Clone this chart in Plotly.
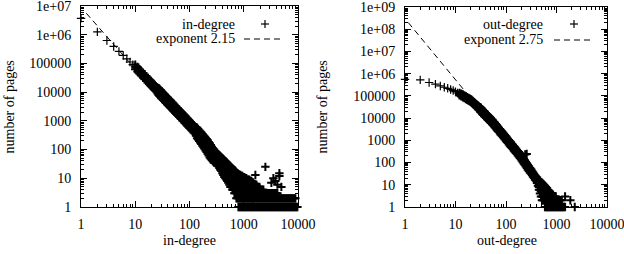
import plotly.graph_objects as go

# ---------------- data: in-degree ----------------
in_sparse_x = [1, 2, 3, 4, 5, 6, 7, 8, 9]
in_sparse_y = [3.7e6, 1.26e6, 6.3e5, 3.9e5, 2.63e5, 1.9e5, 1.45e5, 1.12e5, 9.1e4]

# (degree, [counts ...]) columns of the dense part
in_band_cols = [
    (10, [63000, 75900, 91000]), (11, [52000, 62700, 75000]), (12, [44000, 52700, 63000]),
    (13, [37000, 44900, 54000]), (14, [32000, 38700, 46000]), (15, [28000, 33700, 40000]),
    (16, [24500, 29600, 35500]), (17, [21800, 26300, 31500]), (18, [19400, 23400, 28000]),
    (19, [17400, 21000, 25200]), (20, [15800, 19000, 22800]), (21, [14300, 17200, 20600]),
    (22, [13000, 15700, 18800]), (23, [11900, 14300, 17200]), (24, [11000, 13200, 15800]),
    (25, [10000, 12100, 14500]), (26, [9000, 11200, 14100]), (27, [7900, 10400, 13700]),
    (28, [7300, 9700, 12800]), (29, [6850, 9020, 11900]), (30, [6400, 8400, 11100]),
    (31, [6000, 7890, 10400]), (33, [5300, 7000, 9200]), (34, [4990, 6560, 8660]),
    (36, [4450, 5850, 7700]), (37, [4210, 5540, 7310]), (39, [3800, 5000, 6600]),
    (40, [3600, 4740, 6260]), (42, [3250, 4300, 5680]), (44, [2980, 3920, 5170]),
    (46, [2720, 3580, 4730]), (48, [2500, 3290, 4340]), (50, [2300, 3030, 4000]),
    (52, [2130, 2800, 3700]), (55, [1900, 2500, 3300]), (57, [1770, 2330, 3080]),
    (60, [1600, 2100, 2780]), (62, [1500, 1970, 2600]), (65, [1370, 1800, 2370]),
    (68, [1250, 1640, 2160]), (71, [1150, 1510, 1990]), (74, [1060, 1390, 1830]),
    (77, [980, 1290, 1700]), (81, [880, 1160, 1530]), (84, [820, 1080, 1420]),
    (88, [745, 980, 1290]), (92, [680, 895, 1180]), (96, [625, 823, 1090]),
    (100, [575, 757, 1000]), (105, [520, 688, 910]), (110, [475, 627, 830]),
    (115, [435, 574, 760]), (120, [395, 525, 695]), (126, [360, 478, 630]),
    (132, [300, 430, 600]), (138, [250, 384, 580]), (144, [225, 345, 520]),
    (151, [200, 309, 465]), (158, [178, 278, 425]), (165, [155, 250, 390]),
    (173, [137, 224, 350]), (181, [120, 200, 310]), (189, [106, 180, 285]),
    (198, [93, 161, 258]), (207, [82, 145, 232]), (216, [72, 131, 210]),
    (226, [62, 90, 118, 185]), (236, [53, 75, 106, 165]), (247, [48, 68, 96, 145]),
    (258, [43, 62, 86, 125]), (270, [39, 55, 77, 112]), (282, [35, 50, 69, 100]),
]

in_tail_cols = [
    (300, [38, 50, 65, 85]),
    (313, [33, 45, 60, 79]),
    (327, [29, 40, 55, 73]),
    (341, [26, 36, 50, 67]),
    (356, [23, 32, 45, 62]),
    (371, [20, 28, 40, 57]),
    (387, [18, 25, 35, 53]),
    (404, [15, 22, 31, 42, 50]),
    (421, [13, 19, 27, 38, 46]),
    (440, [11, 16, 23, 32, 42]),
    (459, [10, 14, 20, 28, 39]),
    (479, [9, 12, 18, 25, 36]),
    (499, [8, 11, 16, 23, 33]),
    (521, [7, 10, 14, 21, 30]),
    (544, [6, 9, 13, 19, 28]),
    (568, [5, 8, 11, 16, 22, 26]),
    (592, [5, 7, 10, 14, 19, 24]),
    (618, [4, 6, 8, 12, 16, 22]),
    (644, [4, 5, 7, 10, 14, 20]),
    (672, [3, 4, 6, 9, 13, 19]),
    (701, [3, 4, 6, 9, 13, 18]),
    (732, [2, 3, 5, 8, 11, 16]),
    (764, [2, 3, 5, 7, 10, 15]),
    (797, [1, 2, 3, 5, 7, 10, 14]),
    (831, [1, 2, 3, 5, 7, 10, 13]),
    (867, [1, 2, 3, 5, 7, 9, 13]),
    (905, [1, 2, 3, 5, 7, 9, 12]),
    (944, [1, 2, 3, 4, 6, 8, 12]),
    (985, [1, 2, 3, 4, 6, 8, 11]),
    (1028, [1, 2, 3, 4, 6, 8, 11]),
    (1072, [1, 2, 3, 4, 6, 8, 10]),
    (1119, [1, 2, 3, 4, 6, 8, 10]),
    (1167, [1, 2, 3, 5, 7, 9]),
    (1218, [1, 2, 3, 4, 6, 9]),
    (1271, [1, 2, 3, 4, 6, 9]),
    (1326, [1, 2, 3, 5, 8]),
    (1383, [1, 2, 3, 5, 8]),
    (1443, [1, 2, 3, 5, 7]),
    (1506, [1, 2, 3, 5, 7]),
    (1571, [1, 2, 3, 4, 6]),
    (1639, [1, 2, 3, 4, 6, 13]),
    (1710, [1, 2, 3, 4, 6]),
    (1785, [1, 2, 3, 4, 5]),
    (1862, [1, 2, 3, 5]),
    (1943, [1, 2, 3, 5]),
    (2027, [1, 2, 3, 4]),
    (2115, [1, 2, 3, 4]),
    (2207, [1, 2, 3, 4]),
    (2302, [1, 2, 3, 4]),
    (2402, [1, 2, 3]),
    (2506, [1, 2, 3, 25]),
    (2615, [1, 2, 3]),
    (2729, [1, 2, 3]),
    (2847, [1, 2, 3]),
    (2970, [1, 2, 3]),
    (3099, [1, 2, 3]),
    (3234, [1, 2, 3, 7]),
    (3374, [1, 2, 3]),
    (3520, [1, 2, 3, 10]),
    (3673, [1, 2, 3]),
    (3832, [1, 2, 3, 8]),
    (3998, [1, 2, 3]),
    (4172, [1, 2, 3, 6]),
    (4353, [1, 2]),
    (4541, [1, 2, 12, 15]),
    (4738, [1, 2]),
    (4944, [1, 2, 5]),
    (5158, [1, 2]),
    (5382, [1, 2]),
    (5616, [1, 2]),
    (5859, [1, 2]),
    (6113, [1, 2]),
    (6378, [1, 2]),
    (6655, [1, 2]),
    (6943, [1, 2]),
    (7244, [1, 2]),
    (7558, [1, 2]),
    (7886, [1, 2]),
    (8228, [1, 2]),
    (8585, [1, 2]),
    (8957, [1, 2]),
    (9345, [1]),
    (9750, [1]),
]

# ---------------- data: out-degree ----------------
out_sparse_x = [1, 2, 3, 4, 5, 6, 7, 8, 9, 10, 11]
out_sparse_y = [5.5e5, 5.25e5, 4.0e5, 3.4e5, 2.8e5, 2.45e5, 2.2e5, 1.95e5, 1.74e5, 1.55e5, 1.35e5]

out_band_cols = [
    (12, [105000, 120000, 137000]), (13, [96000, 110000, 126000]), (14, [87000, 100000, 115000]),
    (15, [79000, 91000, 105000]), (16, [72000, 83000, 95000]), (17, [66000, 76000, 87000]),
    (18, [62000, 71000, 81000]), (19, [58000, 66500, 76000]), (20, [54000, 62000, 71000]),
    (21, [49000, 56500, 65000]), (22, [44000, 51000, 59000]), (23, [40500, 47000, 54000]),
    (24, [37000, 43000, 49000]), (25, [34000, 39500, 45000]), (26, [31000, 36000, 41000]),
    (27, [29000, 33500, 38500]), (28, [27000, 31000, 36000]), (29, [23700, 28500, 33800]),
    (31, [19300, 24300, 30600]), (32, [17800, 22400, 28300]), (34, [15500, 19500, 24500]),
    (35, [14300, 18000, 22700]), (37, [12700, 16000, 20100]), (38, [11800, 14900, 18800]),
    (40, [10600, 13300, 16700]), (42, [9500, 11900, 15000]), (44, [8400, 10600, 13300]),
    (46, [7600, 9550, 12000]), (48, [6800, 8590, 10800]), (50, [6200, 7800, 9800]),
    (53, [5400, 6790, 8550]), (55, [4900, 6150, 7750]), (58, [4300, 5410, 6810]),
    (60, [3900, 4900, 6200]), (63, [3420, 4310, 5430]), (66, [3000, 3800, 4800]),
    (69, [2660, 3350, 4220]), (72, [2350, 2950, 3720]), (76, [2030, 2560, 3220]),
    (79, [1800, 2270, 2860]), (83, [1600, 2010, 2530]), (87, [1400, 1770, 2230]),
    (91, [1240, 1560, 1960]), (95, [1090, 1370, 1730]), (100, [950, 1200, 1510]),
    (104, [840, 1060, 1340]), (109, [750, 944, 1190]), (114, [650, 820, 1040]),
    (120, [570, 721, 910]), (125, [505, 640, 810]), (131, [450, 565, 710]),
    (137, [395, 495, 625]), (144, [340, 433, 545]), (150, [305, 385, 485]),
    (157, [270, 340, 430]), (164, [240, 300, 380]), (172, [210, 264, 330]),
    (180, [185, 233, 295]), (188, [160, 205, 260]), (197, [140, 177, 225]),
    (206, [120, 153, 195]), (216, [103, 132, 168]), (226, [88, 113, 145]),
    (236, [77, 98, 127]), (240, [230]), (247, [66, 85, 110]), (257, [245]),
    (259, [57, 73, 94]), (271, [48, 62, 80]), (285, [41, 53, 68]),
]

out_tail_cols = [
    (300, [35, 45, 57]),
    (314, [31, 39, 50]),
    (328, [27, 34, 43]),
    (343, [23, 29, 37]),
    (359, [20, 25, 31]),
    (376, [17, 22, 27]),
    (393, [15, 19, 23]),
    (411, [12, 15, 18, 21]),
    (430, [9, 12, 15, 18]),
    (450, [6, 8, 11, 14, 17]),
    (471, [4, 6, 9, 12, 15]),
    (493, [3, 5, 7, 10, 13]),
    (515, [2, 3, 5, 7, 10, 12]),
    (539, [2, 3, 5, 7, 9, 11]),
    (564, [2, 3, 5, 7, 10]),
    (590, [1, 2, 3, 5, 7, 9]),
    (617, [1, 2, 3, 4, 6, 8]),
    (646, [1, 2, 3, 4, 5, 7]),
    (676, [1, 2, 3, 4, 6]),
    (707, [1, 2, 3, 4, 5]),
    (740, [1, 2, 3, 5]),
    (774, [1, 2, 3, 4]),
    (810, [1, 2, 3, 4]),
    (848, [1, 2, 3]),
    (887, [1, 2, 3]),
    (928, [1, 2, 3]),
    (971, [1, 2, 3]),
    (1016, [1, 2]),
    (1063, [1, 2]),
    (1112, [1, 2]),
    (1164, [1, 2]),
    (1218, [1, 2]),
    (1274, [1, 2]),
    (1333, [1]),
    (1395, [1]),
    (1480, [1, 3]),
    (1880, [2]),
    (2300, [1]),
]

# fitted power laws
in_exponent, in_const = 2.15, 9.06e6
out_exponent, out_const = 2.75, 3.0e8
in_fit_x = [1.25, 10000]
out_fit_x = [1.16, 10000]

# tick labels
x_tickvals = [1, 10, 100, 1000, 10000]
x_ticktext = ["1", "10", "100", "1000", "10000"]
in_y_tickvals = [1, 10, 100, 1000, 1e4, 1e5, 1e6, 1e7]
in_y_ticktext = ["1", "10", "100", "1000", "10000", "100000", "1e+06", "1e+07"]
out_y_tickvals = [1, 10, 100, 1000, 1e4, 1e5, 1e6, 1e7, 1e8, 1e9]
out_y_ticktext = ["1", "10", "100", "1000", "10000", "100000", "1e+06", "1e+07", "1e+08", "1e+09"]


def flatten(cols):
    xs, ys = [], []
    for x, yl in cols:
        for y in yl:
            xs.append(x)
            ys.append(y)
    return xs, ys


in_dx, in_dy = flatten(in_band_cols + in_tail_cols)
out_dx, out_dy = flatten(out_band_cols + out_tail_cols)

in_fit_y = [in_const * x ** (-in_exponent) for x in in_fit_x]
out_fit_y = [out_const * x ** (-out_exponent) for x in out_fit_x]

W, H = 624, 254
FONT = "Liberation Serif, Times New Roman, Times, serif"
thin_marker = dict(symbol="cross-thin", size=6, line=dict(color="black", width=1.2))
dense_marker = dict(symbol="cross-thin", size=6, line=dict(color="black", width=2.0))
dash_line = dict(color="black", width=1, dash="6px,4px")

fig = go.Figure()
for xa, ya, sx, sy, dx, dy, fx, fy in [
    ("x", "y", in_sparse_x, in_sparse_y, in_dx, in_dy, in_fit_x, in_fit_y),
    ("x2", "y2", out_sparse_x, out_sparse_y, out_dx, out_dy, out_fit_x, out_fit_y),
]:
    fig.add_trace(go.Scatter(x=sx, y=sy, mode="markers", marker=thin_marker,
                             cliponaxis=False, xaxis=xa, yaxis=ya, showlegend=False))
    fig.add_trace(go.Scatter(x=dx, y=dy, mode="markers", marker=dense_marker,
                             cliponaxis=False, xaxis=xa, yaxis=ya, showlegend=False))
    fig.add_trace(go.Scatter(x=fx, y=fy, mode="lines", line=dash_line,
                             xaxis=xa, yaxis=ya, showlegend=False))


def px(v):
    return v / W


def py(v):
    return 1 - v / H


EPS = 0.0005
axis_common = dict(type="log", showgrid=False, zeroline=False, showline=True,
                   linecolor="black", linewidth=1, mirror="allticks",
                   ticks="inside", ticklen=6, tickwidth=1, tickcolor="black",
                   tickfont=dict(family=FONT, size=14, color="black"),
                   ticklabeloverflow="allow", automargin=False,
                   minor=dict(ticks="inside", ticklen=3, dtick="D1", tickcolor="black",
                              tickwidth=1, showgrid=False))

fig.update_layout(
    width=W, height=H, margin=dict(l=0, r=0, t=0, b=0),
    paper_bgcolor="white", plot_bgcolor="white",
    xaxis=dict(axis_common, domain=[px(81), px(298)], range=[-EPS, 4 + EPS], anchor="y",
               tickvals=x_tickvals, ticktext=x_ticktext, ticklabelstandoff=4),
    yaxis=dict(axis_common, domain=[py(207), py(6)], range=[-EPS, 7 + EPS], anchor="x",
               tickvals=in_y_tickvals, ticktext=in_y_ticktext, ticklabelstandoff=6),
    xaxis2=dict(axis_common, domain=[px(405), px(607)], range=[-EPS, 4 + EPS], anchor="y2",
                tickvals=x_tickvals, ticktext=x_ticktext, ticklabelstandoff=4),
    yaxis2=dict(axis_common, domain=[py(207), py(7)], range=[-EPS, 9 + EPS], anchor="x2",
                tickvals=out_y_tickvals, ticktext=out_y_ticktext, ticklabelstandoff=6),
)

tfont = dict(family=FONT, size=14, color="black")
ann = [
    dict(text="number of pages", x=px(9), y=py(107.5), textangle=-90),
    dict(text="number of pages", x=px(322), y=py(107.5), textangle=-90),
    dict(text="in-degree", x=px(189.5), y=py(240)),
    dict(text="out-degree", x=px(506.5), y=py(240)),
    dict(text="in-degree", x=px(236.5), y=py(24), xanchor="right"),
    dict(text="exponent 2.15", x=px(236.5), y=py(39), xanchor="right"),
    dict(text="out-degree", x=px(544.5), y=py(24), xanchor="right"),
    dict(text="exponent 2.75", x=px(544.5), y=py(40), xanchor="right"),
]
for a in ann:
    a.setdefault("xanchor", "center")
    fig.add_annotation(xref="paper", yref="paper", showarrow=False, yanchor="middle",
                       font=tfont, **a)

# legend samples
shapes = []
for cx, cy in [(265, 24), (574, 24)]:
    shapes.append(dict(type="line", xref="paper", yref="paper", x0=px(cx - 4), x1=px(cx + 4),
                       y0=py(cy), y1=py(cy), line=dict(color="black", width=1.2)))
    shapes.append(dict(type="line", xref="paper", yref="paper", x0=px(cx), x1=px(cx),
                       y0=py(cy - 4), y1=py(cy + 4), line=dict(color="black", width=1.2)))
for x0, x1, cy in [(244, 283, 39), (554, 592, 40)]:
    shapes.append(dict(type="line", xref="paper", yref="paper", x0=px(x0), x1=px(x1),
                       y0=py(cy), y1=py(cy), line=dash_line))
fig.update_layout(shapes=shapes)

fig.write_html("out.html")
